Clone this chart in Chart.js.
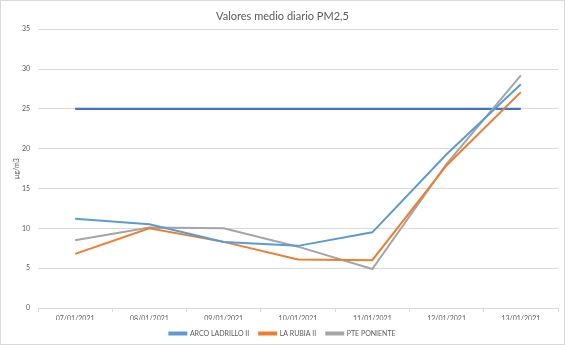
<!DOCTYPE html>
<html>
<head>
<meta charset="utf-8">
<script src="https://cdn.jsdelivr.net/npm/chart.js@4/dist/chart.umd.min.js"></script>
<style>
  html, body { margin: 0; padding: 0; background: #fff; }
  #frame { width: 563px; height: 343px; border: 1px solid #D9D9D9; position: relative; overflow: hidden; }
  canvas { display: block; }
</style>
</head>
<body>
<div id="frame"><canvas id="c" width="563" height="343"></canvas></div>
<script>
const fechas = ['07/01/2021', '08/01/2021', '09/01/2021', '10/01/2021', '11/01/2021', '12/01/2021', '13/01/2021'];
const arcoLadrillo = [11.2, 10.5, 8.3, 7.8, 9.5, 19.3, 28.1];
const laRubia = [6.8, 10.0, 8.3, 6.1, 6.0, 17.9, 27.1];
const ptePoniente = [8.5, 10.1, 10.0, 7.7, 4.9, 18.1, 29.2];
const valorLimite = [25, 25, 25, 25, 25, 25, 25];
const yTicks = [0, 5, 10, 15, 20, 25, 30, 35];

const FONT = 'Lato, "Liberation Sans", sans-serif';
const GREY_TEXT = '#595959';

function serie(label, data, color) {
  return {
    label, data,
    borderColor: color, backgroundColor: color,
    borderWidth: 2, pointRadius: 0, tension: 0, fill: false
  };
}

new Chart(document.getElementById('c'), {
  type: 'line',
  data: {
    labels: fechas,
    datasets: [
      serie('ARCO LADRILLO II', arcoLadrillo, '#5B9BD5'),
      serie('LA RUBIA II', laRubia, '#ED7D31'),
      serie('PTE PONIENTE', ptePoniente, '#A5A5A5'),
      Object.assign(serie('Límite', valorLimite, '#4472C4'), { borderWidth: 2.2 })
    ]
  },
  options: {
    responsive: false,
    animation: false,
    layout: { padding: { left: 6, right: 6, top: 3, bottom: -3 } },
    plugins: {
      title: {
        display: true,
        text: 'Valores medio diario PM2,5',
        color: GREY_TEXT,
        font: { family: FONT, size: 11, weight: 'normal' },
        padding: { top: 6, bottom: 6 }
      },
      legend: {
        position: 'bottom',
        labels: {
          filter: (item) => item.datasetIndex < 3,
          color: GREY_TEXT,
          font: { family: FONT, size: 7 },
          boxWidth: 17,
          boxHeight: 2,
          padding: 10
        }
      },
      tooltip: { enabled: false }
    },
    scales: {
      x: {
        offset: true,
        afterFit: (axis) => { axis.height = 12; },
        grid: {
          offset: true,
          drawOnChartArea: false,
          drawTicks: true,
          tickLength: 4,
          color: '#D9D9D9'
        },
        border: { color: '#D9D9D9' },
        ticks: {
          color: GREY_TEXT,
          font: { family: FONT, size: 7 },
          maxRotation: 0,
          padding: 3
        }
      },
      y: {
        min: 0, max: 35,
        afterBuildTicks: (axis) => { axis.ticks = yTicks.map(v => ({ value: v })); },
        afterFit: (axis) => { axis.width = 31; },
        grid: { color: '#D9D9D9', drawTicks: false, lineWidth: 1 },
        border: { display: false },
        ticks: {
          color: GREY_TEXT,
          font: { family: FONT, size: 7 },
          padding: 8
        },
        title: {
          display: true,
          text: 'µg/m3',
          color: GREY_TEXT,
          font: { family: FONT, size: 7 },
          padding: { top: 6, bottom: 0 }
        }
      }
    }
  }
});
</script>
</body>
</html>
